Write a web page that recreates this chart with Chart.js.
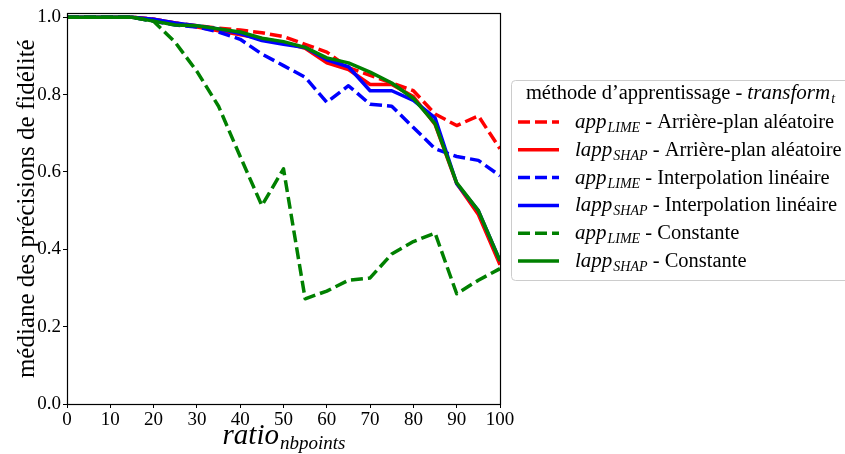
<!DOCTYPE html>
<html>
<head>
<meta charset="utf-8">
<script src="https://cdn.jsdelivr.net/npm/chart.js@4.4.1/dist/chart.umd.min.js"></script>
<style>
  html, body { margin: 0; padding: 0; background: #fff; }
  #wrap { width: 845px; height: 454px; }
</style>
</head>
<body>
<div id="wrap"><canvas id="chart" width="845" height="454"></canvas></div>
<script>
// x values (ratio_nbpoints)
const ratios = [0, 5, 10, 15, 20, 25, 30, 35, 40, 45, 50, 55, 60, 65, 70, 75, 80, 85, 90, 95, 100];
const xTicks = [0, 10, 20, 30, 40, 50, 60, 70, 80, 90, 100];
const yTicks = [0.0, 0.2, 0.4, 0.6, 0.8, 1.0];

// median fidelity, one list per method / transform
const limeBackground = [1.0, 1.0, 1.0, 1.0, 0.995, 0.985, 0.978, 0.972, 0.967, 0.96, 0.95, 0.93, 0.91, 0.87, 0.85, 0.83, 0.81, 0.75, 0.72, 0.745, 0.66];
const shapBackground = [1.0, 1.0, 1.0, 1.0, 0.995, 0.985, 0.975, 0.965, 0.955, 0.945, 0.935, 0.92, 0.882, 0.865, 0.826, 0.826, 0.795, 0.723, 0.57, 0.49, 0.36];
const limeInterp = [1.0, 1.0, 1.0, 1.0, 0.99, 0.98, 0.975, 0.962, 0.943, 0.905, 0.875, 0.845, 0.78, 0.823, 0.775, 0.77, 0.715, 0.66, 0.64, 0.63, 0.59];
const shapInterp = [1.0, 1.0, 1.0, 1.0, 0.995, 0.985, 0.978, 0.97, 0.958, 0.94, 0.93, 0.922, 0.89, 0.872, 0.81, 0.81, 0.785, 0.74, 0.57, 0.50, 0.37];
const limeConstant = [1.0, 1.0, 1.0, 1.0, 0.99, 0.935, 0.86, 0.77, 0.64, 0.513, 0.608, 0.272, 0.292, 0.32, 0.326, 0.388, 0.42, 0.442, 0.285, 0.32, 0.35];
const shapConstant = [1.0, 1.0, 1.0, 1.0, 0.99, 0.98, 0.978, 0.97, 0.962, 0.946, 0.937, 0.922, 0.895, 0.882, 0.858, 0.83, 0.79, 0.725, 0.572, 0.50, 0.37];

const methods = ['app', 'lapp'];
const methodSubs = ['LIME', 'SHAP'];
const transforms = ['Arrière-plan aléatoire', 'Interpolation linéaire', 'Constante'];
const colors = ['#ff0000', '#0000ff', '#008000'];
const series = [limeBackground, shapBackground, limeInterp, shapInterp, limeConstant, shapConstant];

const serif = "'Liberation Serif', 'DejaVu Serif', serif";

const datasets = series.map((vals, i) => {
  const m = i % 2;
  const t = Math.floor(i / 2);
  return {
    label: methods[m] + '_' + methodSubs[m] + ' - ' + transforms[t],
    parts: [methods[m], methodSubs[m], transforms[t]],
    data: vals.map((v, k) => ({ x: ratios[k], y: v })),
    borderColor: colors[t],
    backgroundColor: colors[t],
    borderWidth: 3.5,
    borderDash: m === 0 ? [12, 5] : [],
    borderCapStyle: 'butt',
    borderJoinStyle: 'round',
    pointRadius: 0,
    tension: 0,
    fill: false,
    order: 5 - i,
  };
});

// draws the frame, the x title with its subscript and the legend box
const decorations = {
  id: 'decorations',
  afterDraw(chart) {
    const ctx = chart.ctx;
    const a = chart.chartArea;
    ctx.save();
    ctx.strokeStyle = '#000';
    ctx.lineWidth = 1.2;
    ctx.strokeRect(Math.round(a.left) + 0.5, Math.round(a.top) + 0.5,
      Math.round(a.right - a.left), Math.round(a.bottom - a.top));

    // x axis title: ratio_nbpoints
    ctx.fillStyle = '#000';
    ctx.textBaseline = 'alphabetic';
    ctx.textAlign = 'left';
    const big = 'italic 29px ' + serif;
    const small = 'italic 19px ' + serif;
    ctx.font = big;
    const w1 = ctx.measureText('ratio').width;
    ctx.font = small;
    const w2 = ctx.measureText('nbpoints').width;
    let x0 = (a.left + a.right) / 2 - (w1 + w2) / 2;
    ctx.font = big;
    ctx.fillText('ratio', x0, 444);
    ctx.font = small;
    ctx.fillText('nbpoints', x0 + w1 + 1, 449);

    // legend
    const bx = 511, by = 80, bw = 345, bh = 200;
    ctx.beginPath();
    ctx.roundRect(bx + 0.5, by + 0.5, bw, bh, 4);
    ctx.fillStyle = 'rgba(255,255,255,0.85)';
    ctx.fill();
    ctx.strokeStyle = '#cccccc';
    ctx.lineWidth = 1;
    ctx.stroke();

    ctx.fillStyle = '#000';
    const norm = '20.5px ' + serif;
    const it = 'italic 21px ' + serif;
    const sub = 'italic 14px ' + serif;
    const head = 'méthode d\u2019apprentissage - ';
    ctx.font = norm;
    const hw1 = ctx.measureText(head).width;
    ctx.font = it;
    const hw2 = ctx.measureText('transform').width;
    ctx.font = sub;
    const hw3 = ctx.measureText('t').width;
    let hx = 680 - (hw1 + hw2 + hw3) / 2;
    const hy = 99;
    ctx.font = norm;
    ctx.fillText(head, hx, hy);
    ctx.font = it;
    ctx.fillText('transform', hx + hw1, hy);
    ctx.font = sub;
    ctx.fillText('t', hx + hw1 + hw2 + 1, hy + 4);

    chart.data.datasets.forEach((ds, i) => {
      const ry = 122 + i * 27.8;
      ctx.save();
      ctx.strokeStyle = ds.borderColor;
      ctx.lineWidth = ds.borderWidth;
      ctx.lineCap = 'butt';
      ctx.setLineDash(ds.borderDash);
      ctx.beginPath();
      ctx.moveTo(518, ry);
      ctx.lineTo(559, ry);
      ctx.stroke();
      ctx.restore();
      const ty = ry + 6;
      let tx = 575;
      ctx.font = it;
      ctx.fillText(ds.parts[0], tx, ty);
      tx += ctx.measureText(ds.parts[0]).width + 1;
      ctx.font = sub;
      ctx.fillText(ds.parts[1], tx, ty + 4);
      tx += ctx.measureText(ds.parts[1]).width;
      ctx.font = norm;
      ctx.fillText(' - ' + ds.parts[2], tx, ty);
    });
    ctx.restore();
  }
};

new Chart(document.getElementById('chart'), {
  type: 'line',
  data: { datasets },
  options: {
    responsive: false,
    animation: false,
    devicePixelRatio: 1,
    layout: { padding: { top: 10, right: 345, left: 0, bottom: 0 } },
    plugins: { legend: { display: false }, tooltip: { enabled: false } },
    scales: {
      x: {
        type: 'linear',
        min: 0,
        max: 100,
        afterBuildTicks: s => { s.ticks = xTicks.map(v => ({ value: v })); },
        afterFit: s => { s.height = 50; },
        ticks: { color: '#000', font: { family: serif, size: 19 }, padding: 1, maxRotation: 0 },
        grid: { drawOnChartArea: false, tickLength: 4, color: '#000' },
        border: { display: false },
      },
      y: {
        min: 0,
        max: 1.01,
        afterBuildTicks: s => { s.ticks = yTicks.map(v => ({ value: v })); },
        afterFit: s => { s.width = 67; },
        ticks: { color: '#000', font: { family: serif, size: 19 }, padding: 2,
          callback: v => v.toFixed(1) },
        grid: { drawOnChartArea: false, tickLength: 4, color: '#000' },
        border: { display: false },
        title: { display: true, text: 'médiane des précisions de fidélité', color: '#000',
          font: { family: serif, size: 25 }, padding: { top: 12, bottom: 0 } },
      },
    },
  },
  plugins: [decorations],
});
</script>
</body>
</html>
